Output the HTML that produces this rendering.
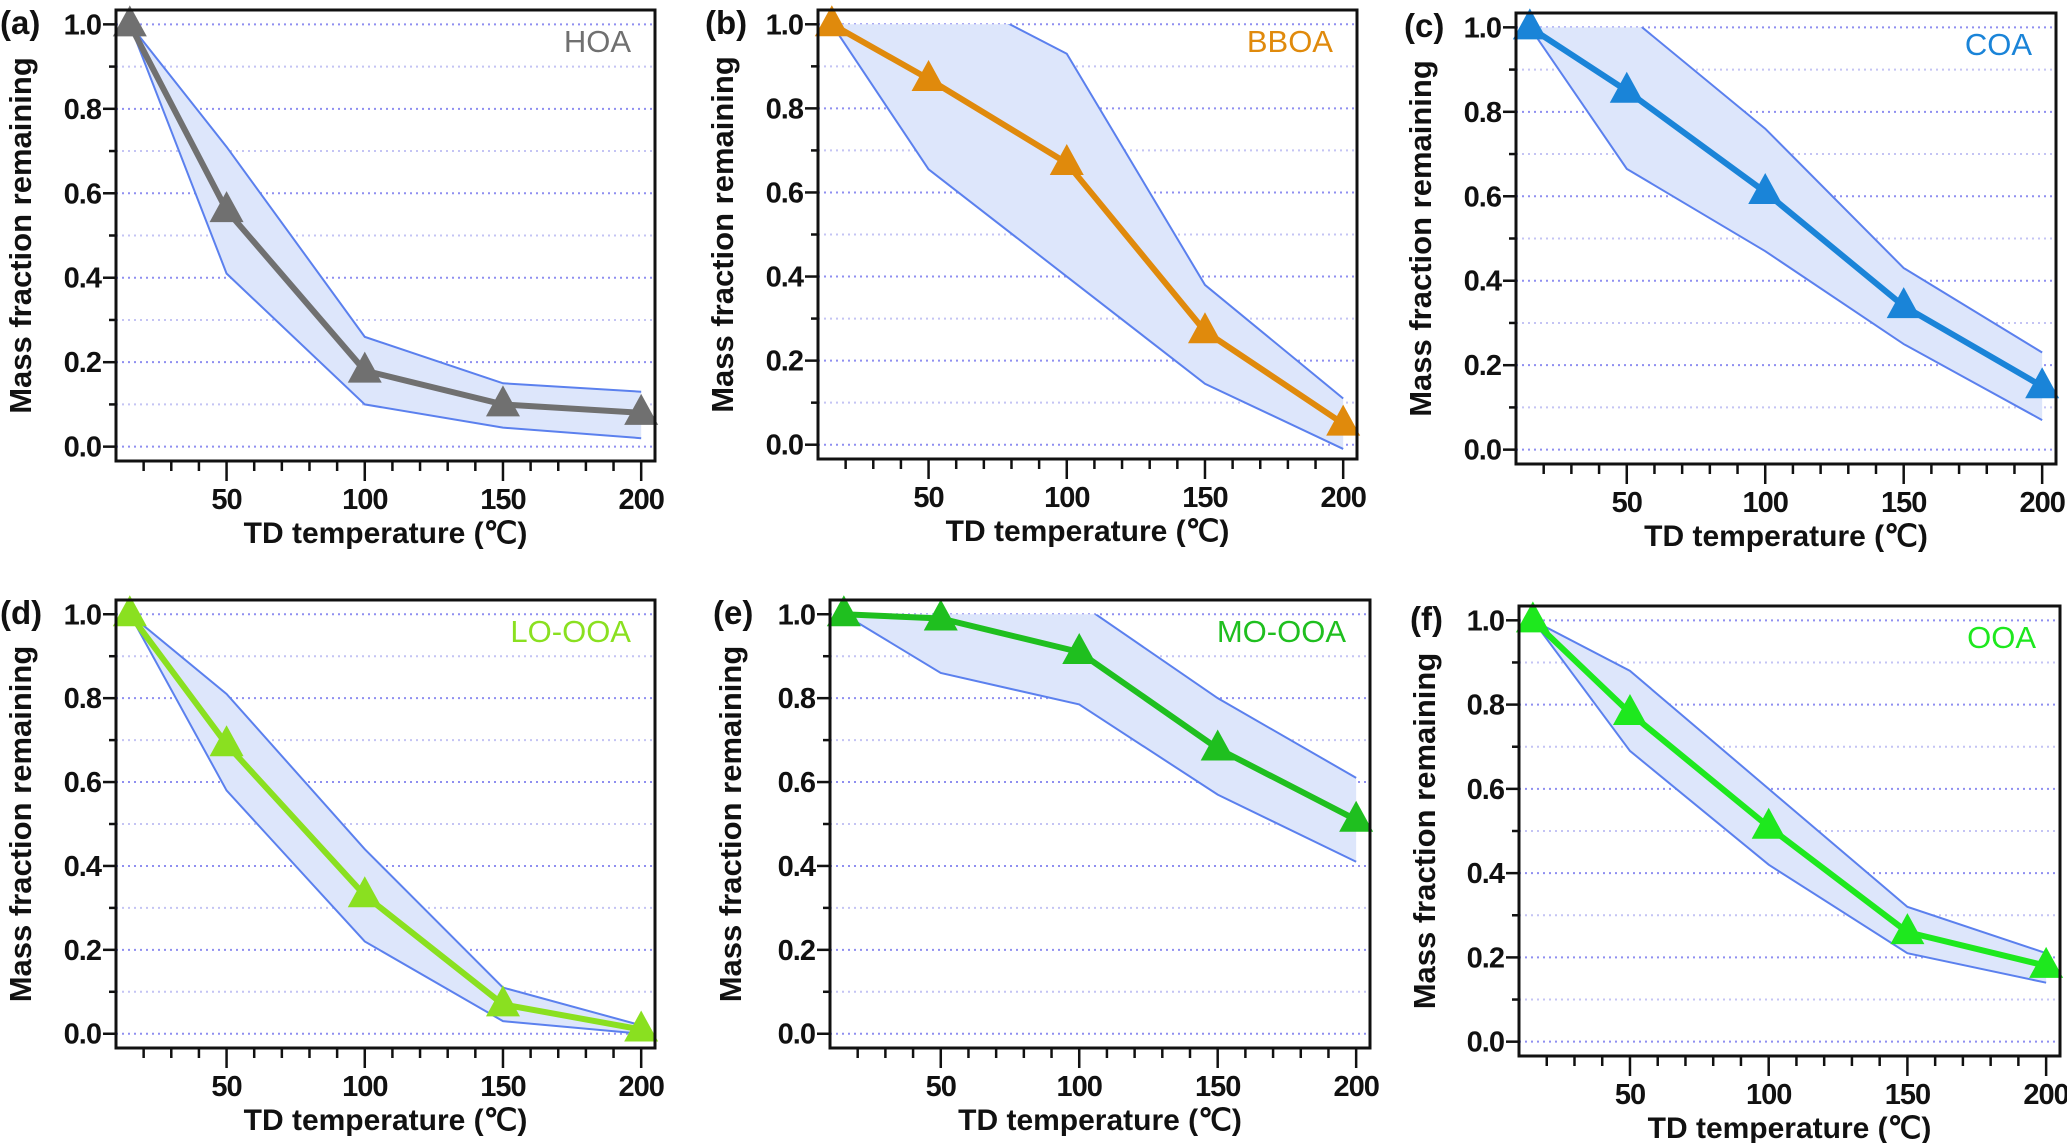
<!DOCTYPE html>
<html><head><meta charset="utf-8"><style>
html,body{margin:0;padding:0;background:#fff;}
svg{display:block;font-family:"Liberation Sans",Arial,sans-serif;}
</style></head><body>
<svg id="fig" width="2067" height="1143" viewBox="0 0 2067 1143" xmlns="http://www.w3.org/2000/svg"></svg>
<script>
const temps=[15,50,100,150,200];
const hoaMean=[1,0.56,0.18,0.10,0.08], hoaUp=[1,0.71,0.26,0.15,0.13], hoaLo=[1,0.41,0.10,0.045,0.02];
const bboaMean=[1,0.87,0.67,0.27,0.05], bboaUp=[1,1.1,0.93,0.38,0.11], bboaLo=[1,0.655,0.40,0.145,-0.01];
const coaMean=[1,0.85,0.61,0.34,0.15], coaUp=[1,1.03,0.76,0.43,0.23], coaLo=[1,0.665,0.47,0.25,0.07];
const looaMean=[1,0.69,0.33,0.07,0.01], looaUp=[1,0.81,0.44,0.11,0.02], looaLo=[1,0.58,0.22,0.03,0.0];
const moooaMean=[1,0.99,0.91,0.68,0.51], moooaUp=[1,1.1,1.027,0.80,0.61], moooaLo=[1,0.86,0.785,0.57,0.41];
const ooaMean=[1,0.78,0.51,0.26,0.18], ooaUp=[1,0.88,0.60,0.32,0.21], ooaLo=[1,0.69,0.42,0.21,0.14];
const yTickLabels=["0.0","0.2","0.4","0.6","0.8","1.0"];
const xTickLabels=["50","100","150","200"];

const panels=[
 {id:"a",name:"HOA",color:"#707070",mean:hoaMean,up:hoaUp,lo:hoaLo,L:116,T:10,W:539,H:451,lx:0,ytx:20},
 {id:"b",name:"BBOA",color:"#e08a0c",mean:bboaMean,up:bboaUp,lo:bboaLo,L:818,T:10,W:539,H:449,lx:705,ytx:722},
 {id:"c",name:"COA",color:"#1a84d8",mean:coaMean,up:coaUp,lo:coaLo,L:1516,T:13,W:540,H:451,lx:1404,ytx:1420},
 {id:"d",name:"LO-OOA",color:"#8ae020",mean:looaMean,up:looaUp,lo:looaLo,L:116,T:600,W:539,H:448,lx:0,ytx:20},
 {id:"e",name:"MO-OOA",color:"#1fbf1f",mean:moooaMean,up:moooaUp,lo:moooaLo,L:830,T:600,W:540,H:448,lx:713,ytx:730},
 {id:"f",name:"OOA",color:"#1ee81e",mean:ooaMean,up:ooaUp,lo:ooaLo,L:1519,T:606,W:541,H:450,lx:1410,ytx:1424}
];
const NS="http://www.w3.org/2000/svg";
const svg=document.getElementById('fig');
function mk(tag,attrs,parent){const e=document.createElementNS(NS,tag);for(const k in attrs)e.setAttribute(k,attrs[k]);(parent||svg).appendChild(e);return e;}
const XMIN=10,XMAX=205,YMIN=-0.034,YMAX=1.034;
panels.forEach(p=>{
 const g=mk('g',{});
 
 
 const X=v=>p.L+(v-XMIN)/(XMAX-XMIN)*p.W;
 const Y=v=>p.T+(YMAX-v)/(YMAX-YMIN)*p.H;
 for(let i=0;i<=10;i++){const v=i/10;const gl=mk('line',{x1:p.L,x2:p.L+p.W,y1:Y(v),y2:Y(v),stroke:i%2==0?'#8f8ff0':'#c4c4f4','stroke-width':2,'stroke-dasharray':'2,4'},g);
  }
 const cp=mk('clipPath',{id:'clip'+p.id},g);mk('rect',{x:p.L,y:Y(1.0),width:p.W,height:Y(YMIN)-Y(1.0)},cp);
 const band=mk('g',{'clip-path':'url(#clip'+p.id+')'},g);
 let pts=temps.map((t,i)=>X(t)+','+Y(p.up[i])).concat(temps.slice().reverse().map((t,j)=>{const i=temps.length-1-j;return X(t)+','+Y(p.lo[i]);}));
 const poly=mk('polygon',{points:pts.join(' '),fill:'#dde6fb',stroke:'none'},band);
 
 const upl=mk('polyline',{points:temps.map((t,i)=>X(t)+','+Y(p.up[i])).join(' '),fill:'none',stroke:'#5b80ee','stroke-width':2},band);
 
 const lol=mk('polyline',{points:temps.map((t,i)=>X(t)+','+Y(p.lo[i])).join(' '),fill:'none',stroke:'#5b80ee','stroke-width':2},band);
 
 const ml=mk('polyline',{points:temps.map((t,i)=>X(t)+','+Y(p.mean[i])).join(' '),fill:'none',stroke:p.color,'stroke-width':6},g);
 
 temps.forEach((t,i)=>{const cx=X(t),cy=Y(p.mean[i]);
  const tr=mk('polygon',{points:`${cx},${cy-19} ${cx-17},${cy+12} ${cx+17},${cy+12}`,fill:p.color},g);
  });
 const fr=mk('rect',{x:p.L,y:p.T,width:p.W,height:p.H,fill:'none',stroke:'#111','stroke-width':3},g);
 
 for(let i=0;i<=10;i++){const v=i/10;
  if(i%2==0){mk('line',{x1:p.L-13,x2:p.L,y1:Y(v),y2:Y(v),stroke:'#111','stroke-width':2.5},g);}
  else mk('line',{x1:p.L-7,x2:p.L,y1:Y(v),y2:Y(v),stroke:'#111','stroke-width':2.5},g);}
 yTickLabels.forEach((s,i)=>{const t=mk('text',{x:p.L-15,y:Y(i*0.2)+10,'text-anchor':'end','font-size':29,'font-weight':'bold',fill:'#111','letter-spacing':-1},g);t.textContent=s;
  });
 for(let v=20;v<=200;v+=10){const maj=v%50==0;mk('line',{x1:X(v),x2:X(v),y1:p.T+p.H,y2:p.T+p.H+(maj?20:10),stroke:'#111','stroke-width':2.5},g);}
 xTickLabels.forEach(s=>{const t=mk('text',{x:X(+s),y:p.T+p.H+48,'text-anchor':'middle','font-size':29,'font-weight':'bold',fill:'#111','letter-spacing':-1},g);t.textContent=s;
  });
 const xt=mk('text',{x:p.L+p.W/2,y:p.T+p.H+82,'text-anchor':'middle','font-size':30,'font-weight':'bold',fill:'#111','xml:space':'preserve'},g);xt.textContent='TD  temperature (℃)';
 
 const cy=p.T+p.H/2;
 const yt=mk('text',{x:p.ytx,y:cy,'text-anchor':'middle','font-size':31,'font-weight':'bold',fill:'#111',transform:`rotate(-90 ${p.ytx} ${cy}) translate(0 11)`},g);yt.textContent='Mass fraction remaining';
 
 const pl=mk('text',{x:p.lx,y:p.T+24,'font-size':33,'font-weight':'bold',fill:'#111'},g);pl.textContent='('+p.id+')';
 
 const nl=mk('text',{x:p.L+p.W-24,y:p.T+42,'text-anchor':'end','font-size':31,fill:p.color},g);nl.textContent=p.name;
 
});
</script>
</body></html>
